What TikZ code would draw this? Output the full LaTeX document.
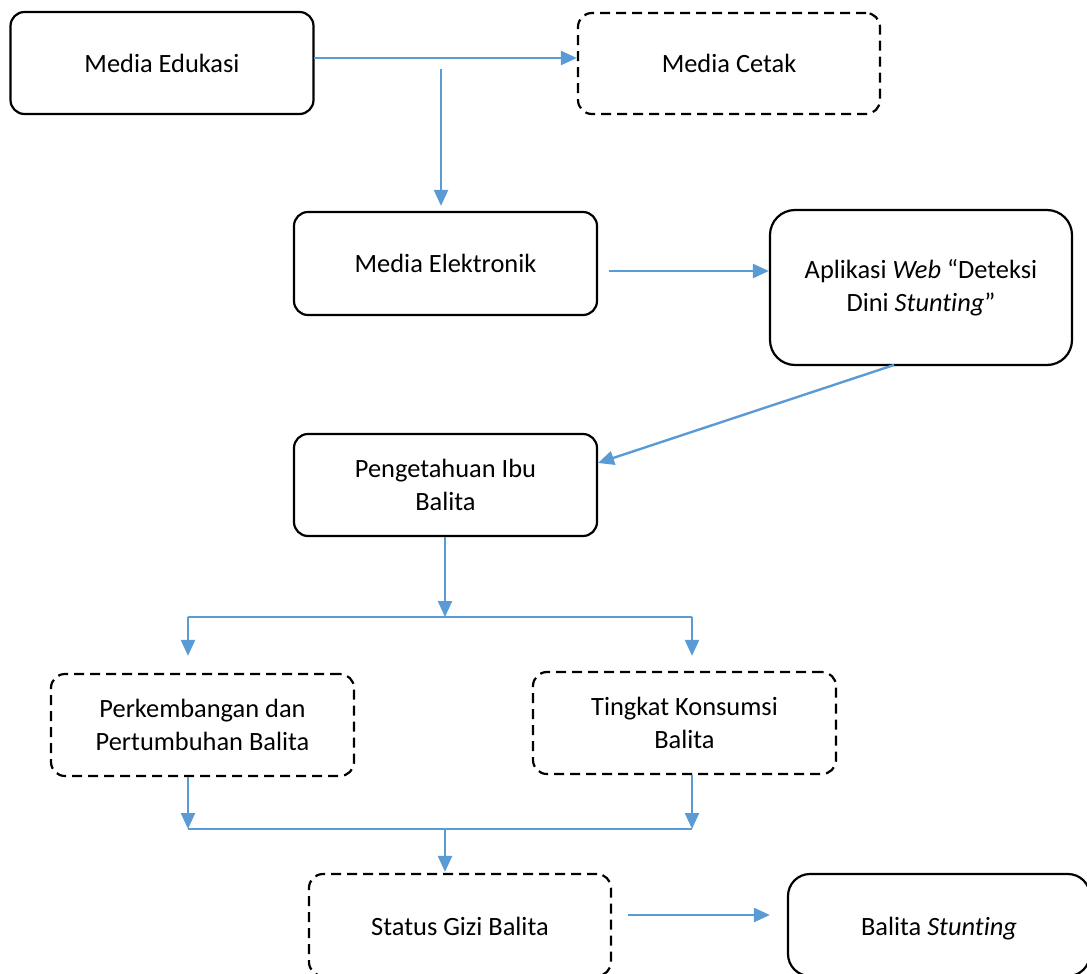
\documentclass[tikz,border=0pt]{standalone}
\usepackage{fontspec}
\setmainfont[Ligatures={TeX,NoCommon}]{Carlito}
\usetikzlibrary{arrows.meta}
\definecolor{arrblue}{HTML}{5B9BD5}
\begin{document}
\begin{tikzpicture}[x=1pt,y=-1pt,
  box/.style={draw=black, line width=2.2pt, rounded corners=14pt, align=center,
    inner sep=0pt, minimum width=303pt, minimum height=102pt,
    font=\fontsize{26.4}{33}\selectfont},
  dbox/.style={box, dash pattern=on 10pt off 6pt},
  arr/.style={draw=arrblue, line width=2.4pt, -{Triangle[length=16pt,width=14pt]}},
  bline/.style={draw=arrblue, line width=1.6pt}]
\useasboundingbox (0,0) rectangle (1087,974);

% nodes
\node[box]  (edu)    at (162,63)    {Media Edukasi};
\node[dbox, minimum width=302pt, minimum height=101pt] (cetak) at (729,63.5) {Media Cetak};
\node[box, minimum height=103pt] (elek) at (445.5,263.5) {Media Elektronik};
\node[box, minimum width=302pt, minimum height=155pt, rounded corners=25pt] (app) at (921,287.5)
  {Aplikasi \textit{Web} “Deteksi\\Dini \textit{Stunting}”};
\node[box]  (peng)   at (445.5,485) {Pengetahuan Ibu\\Balita};
\node[dbox] (perk)   at (202.5,725) {Perkembangan dan\\Pertumbuhan Balita};
\node[dbox] (ting)   at (684.5,723) {Tingkat Konsumsi\\Balita};
\node[dbox, minimum width=302pt] (status) at (460,925) {\raisebox{-4pt}[\height][\depth]{\strut Status Gizi Balita}};
\node[box, minimum width=302pt, rounded corners=22pt] (balita) at (939,925) {\raisebox{-4pt}[\height][\depth]{\strut Balita \textit{Stunting}}};

% helper coordinates
\coordinate (a1) at (314,58);
\coordinate (a2) at (441,69);
\coordinate (a3) at (609,271);
\coordinate (a4) at (894,365);
\coordinate (j1) at (445,617);
\coordinate (jl) at (188,617);
\coordinate (jr) at (692,617);
\coordinate (kl) at (188,829);
\coordinate (kr) at (692,829);
\coordinate (k1) at (445,829);
\coordinate (a5) at (628,915);

% connectors
\draw[arr] (a1) -- (a1 -| cetak.west);
\draw[arr, shorten >=5pt] (a2) -- (a2 |- elek.north);
\draw[arr] (a3) -- (a3 -| app.west);
\draw[arr] (a4) -- (598,463);
\draw[arr] (peng.south -| j1) -- (j1);
\draw[bline] (jl) -- (jr);
\draw[arr, shorten >=17pt] (jl) -- (jl |- perk.north);
\draw[arr, shorten >=15pt] (jr) -- (jr |- ting.north);
\draw[arr] (perk.south -| kl) -- (kl);
\draw[arr] (ting.south -| kr) -- (kr);
\draw[bline] (kl) -- (kr);
\draw[arr, shorten >=1pt] (k1) -- (k1 |- status.north);
\draw[arr, shorten >=17pt] (a5) -- (a5 -| balita.west);
\end{tikzpicture}
\end{document}
